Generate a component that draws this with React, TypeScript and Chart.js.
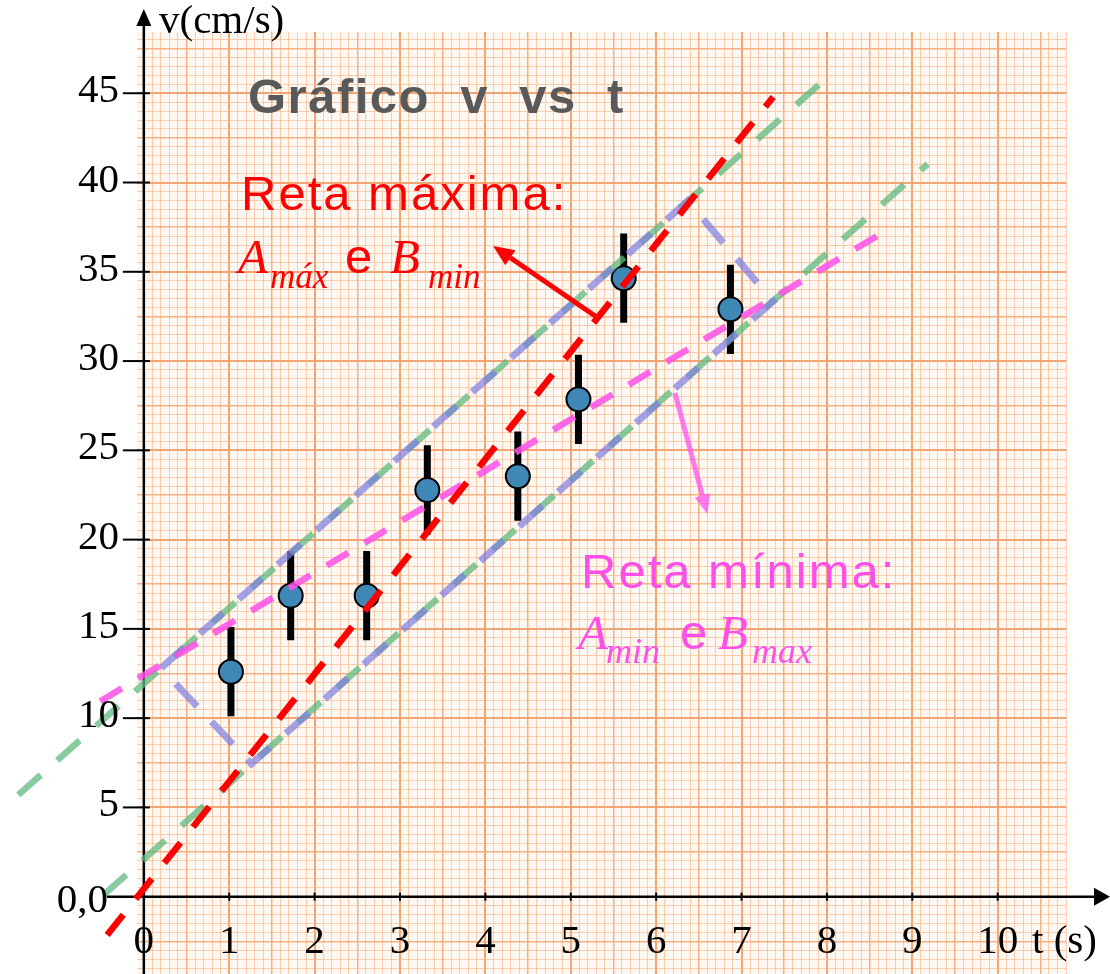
import React, { useEffect, useRef } from "react";
import { Chart, registerables } from "chart.js";

Chart.register(...registerables);

// ---- Data ----
const tValues = [1.02, 1.72, 2.61, 3.32, 4.38, 5.09, 5.62, 6.87];
const vValues = [12.6, 16.86, 16.86, 22.78, 23.55, 27.86, 34.64, 32.9];
const vErrors = [2.5, 2.5, 2.5, 2.5, 2.5, 2.5, 2.5, 2.5];

// straight lines: endpoints [t, v]
const redLine = [[-0.43, -2.15], [7.37, 44.79]];
const pinkLine = [[-0.51, 10.95], [8.62, 37.1]];
const greenUpper = [[-1.47, 5.7], [8.07, 46.17]];
const greenLower = [[-0.47, 0.11], [9.18, 41.04]];
const purpleBox = [[0.2, 12.8], [6.37, 38.96], [7.37, 33.35], [1.26, 7.44], [0.2, 12.8]];

// annotation arrows: [tail, head]
const redArrow = [[5.32, 32.41], [4.09, 36.45]];
const pinkArrow = [[6.22, 28.21], [6.6, 21.44]];

// axis ticks
const xTicks = [0, 1, 2, 3, 4, 5, 6, 7, 8, 9, 10];
const xTickLabels = ["0", "1", "2", "3", "4", "5", "6", "7", "8", "9", "10"];
const yTicks = [0, 5, 10, 15, 20, 25, 30, 35, 40, 45];
const yTickLabels = ["0,0", "5", "10", "15", "20", "25", "30", "35", "40", "45"];

// paper (scale) extents
const X_MIN = -0.08;
const X_MAX = 10.8;
const Y_MIN = -4.33;
const Y_MAX = 48.43;

const SERIF = '"Liberation Serif", "Times New Roman", serif';
const SANS = '"Liberation Sans", Arial, sans-serif';

const toXY = (arr: number[][]) => arr.map(([x, y]) => ({ x, y }));

function gridStyleX(v: number) {
  const k = Math.round(v * 10);
  if (k % 10 === 0) return 2;
  if (k % 5 === 0) return 1;
  return 0;
}
function gridStyleY(v: number) {
  const k = Math.round(v * 2);
  if (k % 10 === 0) return 2;
  if (k % 5 === 0) return 1;
  return 0;
}
const GRID_COLORS = ["rgba(247,185,140,0.68)", "rgba(244,170,120,0.9)", "rgba(241,160,110,0.95)"];
const GRID_WIDTHS = [1, 1.5, 2];

function drawArrow(ctx: CanvasRenderingContext2D, x1: number, y1: number, x2: number, y2: number, color: string, lw: number, headLen: number, headHalf: number) {
  const ang = Math.atan2(y2 - y1, x2 - x1);
  const bx = x2 - headLen * Math.cos(ang);
  const by = y2 - headLen * Math.sin(ang);
  ctx.save();
  ctx.strokeStyle = color;
  ctx.fillStyle = color;
  ctx.lineWidth = lw;
  ctx.lineCap = "butt";
  ctx.beginPath();
  ctx.moveTo(x1, y1);
  ctx.lineTo(bx, by);
  ctx.stroke();
  ctx.beginPath();
  ctx.moveTo(x2, y2);
  ctx.lineTo(bx + headHalf * Math.sin(ang), by - headHalf * Math.cos(ang));
  ctx.lineTo(bx - headHalf * Math.sin(ang), by + headHalf * Math.cos(ang));
  ctx.closePath();
  ctx.fill();
  ctx.restore();
}

const paperPlugin = {
  id: "paper",
  beforeDraw(chart: any) {
    const { ctx, chartArea: a } = chart;
    ctx.save();
    ctx.fillStyle = "#fff8f2";
    ctx.fillRect(a.left, a.top, a.right - a.left, a.bottom - a.top);
    ctx.restore();
  },
};

const axesPlugin = {
  id: "axesArrows",
  beforeDatasetsDraw(chart: any) {
    const { ctx } = chart;
    const xs = chart.scales.x;
    const ys = chart.scales.y;
    const x0 = xs.getPixelForValue(0);
    const y0 = ys.getPixelForValue(0);
    ctx.save();
    ctx.strokeStyle = "#000";
    ctx.fillStyle = "#000";
    ctx.lineWidth = 2.5;
    ctx.beginPath();
    ctx.moveTo(x0, chart.height);
    ctx.lineTo(x0, 24);
    ctx.stroke();
    ctx.beginPath();
    ctx.moveTo(x0, 9);
    ctx.lineTo(x0 - 7.5, 26);
    ctx.lineTo(x0 + 7.5, 26);
    ctx.closePath();
    ctx.fill();
    ctx.beginPath();
    ctx.moveTo(107, y0);
    ctx.lineTo(1096, y0);
    ctx.stroke();
    ctx.beginPath();
    ctx.moveTo(1110, y0);
    ctx.lineTo(1094, y0 - 9);
    ctx.lineTo(1094, y0 + 9);
    ctx.closePath();
    ctx.fill();
    ctx.lineWidth = 2;
    yTicks.forEach((v) => {
      if (v === 0) return;
      const py = ys.getPixelForValue(v);
      ctx.beginPath();
      ctx.moveTo(x0 - 21, py);
      ctx.lineTo(x0 + 6, py);
      ctx.stroke();
    });
    xTicks.forEach((t) => {
      if (t === 0) return;
      const px = xs.getPixelForValue(t);
      ctx.beginPath();
      ctx.moveTo(px, y0 - 4);
      ctx.lineTo(px, y0 + 4);
      ctx.stroke();
    });
    ctx.restore();
  },
  afterDatasetsDraw(chart: any) {
    const { ctx } = chart;
    const xs = chart.scales.x;
    const ys = chart.scales.y;
    const px = (p: number[]) => [xs.getPixelForValue(p[0]), ys.getPixelForValue(p[1])];
    const [ra, rb] = [px(redArrow[0]), px(redArrow[1])];
    drawArrow(ctx, ra[0], ra[1], rb[0], rb[1], "#ff0000", 5, 21, 9);
    const [pa, pb] = [px(pinkArrow[0]), px(pinkArrow[1])];
    drawArrow(ctx, pa[0], pa[1], pb[0], pb[1], "rgba(255,90,235,0.8)", 5, 19, 8);
  },
  afterDraw(chart: any) {
    const { ctx } = chart;
    const xs = chart.scales.x;
    const ys = chart.scales.y;
    const y0 = ys.getPixelForValue(0);
    ctx.save();
    ctx.fillStyle = "#000";
    ctx.textBaseline = "alphabetic";
    ctx.font = `41px ${SERIF}`;
    ctx.textAlign = "right";
    yTicks.forEach((v, i) => {
      const py = ys.getPixelForValue(v);
      if (v === 0) ctx.fillText(yTickLabels[i], 108, py + 15);
      else ctx.fillText(yTickLabels[i], 119, py + 9);
    });
    ctx.textAlign = "center";
    xTicks.forEach((t, i) => {
      ctx.fillText(xTickLabels[i], xs.getPixelForValue(t), y0 + 56);
    });
    ctx.textAlign = "left";
    ctx.fillText("v(cm/s)", 159, 33);
    ctx.fillText("t (s)", 1032, y0 + 56);

    ctx.fillStyle = "#595959";
    ctx.font = `bold 49px ${SANS}`;
    (ctx as any).letterSpacing = "1.5px";
    ctx.fillText("Gráfico  v  vs  t", 248, 113);

    ctx.fillStyle = "#ff0000";
    ctx.font = `49px ${SANS}`;
    (ctx as any).letterSpacing = "2px";
    ctx.fillText("Reta máxima:", 241, 210);
    (ctx as any).letterSpacing = "0px";
    ctx.font = `italic 49px ${SERIF}`;
    ctx.fillText("A", 238, 273);
    ctx.font = `italic 35px ${SERIF}`;
    ctx.fillText("máx", 270, 288);
    ctx.font = `49px ${SANS}`;
    ctx.fillText("e", 345, 273);
    ctx.font = `italic 49px ${SERIF}`;
    ctx.fillText("B", 390, 273);
    ctx.font = `italic 35px ${SERIF}`;
    ctx.fillText("min", 428, 288);

    ctx.fillStyle = "#ff4fe8";
    ctx.font = `49px ${SANS}`;
    (ctx as any).letterSpacing = "2px";
    ctx.fillText("Reta mínima:", 581, 588);
    (ctx as any).letterSpacing = "0px";
    ctx.font = `italic 49px ${SERIF}`;
    ctx.fillText("A", 578, 649);
    ctx.font = `italic 36px ${SERIF}`;
    ctx.fillText("min", 606, 663);
    ctx.font = `49px ${SANS}`;
    ctx.fillText("e", 680, 649);
    ctx.font = `italic 49px ${SERIF}`;
    ctx.fillText("B", 718, 649);
    ctx.font = `italic 36px ${SERIF}`;
    ctx.fillText("max", 752, 663);
    ctx.restore();
  },
};

export default function App() {
  const canvasRef = useRef<HTMLCanvasElement | null>(null);

  useEffect(() => {
    const canvas = canvasRef.current;
    if (!canvas) return;

    const errorData: any[] = [];
    tValues.forEach((t, i) => {
      errorData.push({ x: t, y: vValues[i] - vErrors[i] });
      errorData.push({ x: t, y: vValues[i] + vErrors[i] });
      errorData.push({ x: t, y: null });
    });
    const points = tValues.map((t, i) => ({ x: t, y: vValues[i] }));

    const lineDs = (label: string, data: any[], color: string, width: number, dash: number[], order: number) => ({
      label,
      data,
      showLine: true,
      borderColor: color,
      backgroundColor: color,
      borderWidth: width,
      borderDash: dash,
      borderCapStyle: "butt",
      pointRadius: 0,
      pointHoverRadius: 0,
      tension: 0,
      fill: false,
      clip: false,
      order,
    });

    const chart = new Chart(canvas, {
      type: "scatter",
      data: {
        datasets: [
          lineDs("Reta máxima", toXY(redLine), "#ff0000", 6.5, [26, 20], 0) as any,
          lineDs("Reta mínima", toXY(pinkLine), "rgba(255,80,232,0.85)", 6.5, [25, 19], 1) as any,
          lineDs("Caixa", toXY(purpleBox), "rgba(125,125,225,0.7)", 7, [31, 21], 2) as any,
          lineDs("Paralela superior", toXY(greenUpper), "rgba(95,185,125,0.75)", 6.5, [30, 22], 3) as any,
          lineDs("Paralela inferior", toXY(greenLower), "rgba(95,185,125,0.75)", 6.5, [30, 22], 3) as any,
          {
            label: "Dados",
            data: points,
            showLine: false,
            pointRadius: 12,
            pointHoverRadius: 12,
            pointBackgroundColor: "#3f87b4",
            pointBorderColor: "#000",
            pointBorderWidth: 2,
            clip: false,
            order: 4,
          } as any,
          {
            label: "Erro",
            data: errorData,
            showLine: true,
            spanGaps: false,
            borderColor: "#000",
            borderWidth: 7,
            borderCapStyle: "butt",
            pointRadius: 0,
            pointHoverRadius: 0,
            clip: false,
            order: 5,
          } as any,
        ],
      },
      options: {
        animation: false,
        responsive: false,
        maintainAspectRatio: false,
        devicePixelRatio: 1,
        events: [],
        layout: { autoPadding: false, padding: { left: 137, right: 44, top: 32, bottom: 0 } },
        plugins: {
          legend: { display: false },
          tooltip: { enabled: false },
          title: { display: false },
        },
        scales: {
          x: {
            type: "linear",
            min: X_MIN,
            max: X_MAX,
            border: { display: false },
            afterFit: (s: any) => { s.height = 0; },
            ticks: { display: false, stepSize: 0.1, includeBounds: false, autoSkip: false },
            grid: {
              drawTicks: false,
              color: (c: any) => GRID_COLORS[gridStyleX(c.tick ? c.tick.value : 0)],
              lineWidth: (c: any) => GRID_WIDTHS[gridStyleX(c.tick ? c.tick.value : 0)],
            },
          },
          y: {
            type: "linear",
            min: Y_MIN,
            max: Y_MAX,
            border: { display: false },
            afterFit: (s: any) => { s.width = 0; },
            ticks: { display: false, stepSize: 0.5, includeBounds: false, autoSkip: false },
            grid: {
              drawTicks: false,
              color: (c: any) => GRID_COLORS[gridStyleY(c.tick ? c.tick.value : 0)],
              lineWidth: (c: any) => GRID_WIDTHS[gridStyleY(c.tick ? c.tick.value : 0)],
            },
          },
        },
      } as any,
      plugins: [paperPlugin, axesPlugin] as any,
    });

    return () => chart.destroy();
  }, []);

  return (
    <div style={{ position: "fixed", left: 0, top: 0, width: 1110, height: 974, background: "#fff" }}>
      <canvas ref={canvasRef} width={1110} height={974} style={{ display: "block", width: 1110, height: 974 }} />
    </div>
  );
}
